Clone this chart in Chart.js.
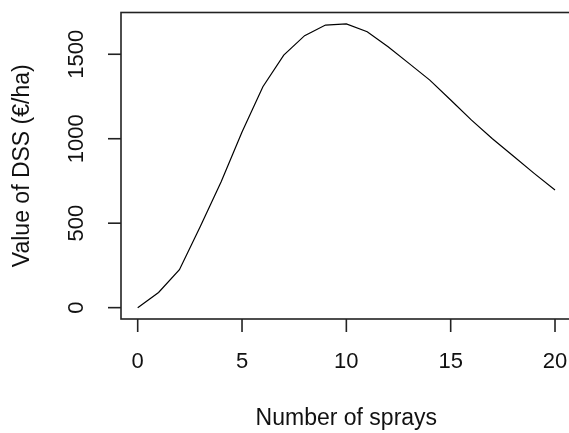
<!DOCTYPE html>
<html>
<head>
<meta charset="utf-8">
<script src="https://cdn.jsdelivr.net/npm/chart.js@4/dist/chart.umd.min.js"></script>
<style>
  html, body { margin:0; padding:0; background:#fff; overflow:hidden; }
  #wrap { width:569px; height:433px; overflow:hidden; }
</style>
</head>
<body>
<div id="wrap"><canvas id="grafico" width="580" height="433"></canvas></div>
<script>
// dados
const sprays = [0,1,2,3,4,5,6,7,8,9,10,11,12,13,14,15,16,17,18,19,20];
const dssValue = [0,90,225,480,745,1040,1308,1495,1610,1673,1680,1633,1544,1446,1347,1229,1110,1000,898,795,696];
const xTicks = [0,5,10,15,20];
const yTicks = [0,500,1000,1500];
const xTitle = "Number of sprays";
const yTitle = "Value of DSS (€/ha)";

const FONT = "'Liberation Sans', Arial, sans-serif";

// eixos no estilo R: caixa, marcas para fora, rótulos do eixo y girados
const eixosR = {
    id: 'eixosR',
    afterDraw(chart){
        const c = chart.ctx;
        const a = chart.chartArea;
        const sx = chart.scales.x, sy = chart.scales.y;
        const tl = 13;
        c.save();
        c.strokeStyle = '#222';
        c.lineWidth = 1.6;
        c.strokeRect(a.left, a.top, a.right - a.left, a.bottom - a.top);

        c.fillStyle = '#111';
        c.font = "22px " + FONT;
        c.textAlign = 'center';
        c.textBaseline = 'middle';
        xTicks.forEach(v=>{
            const px = sx.getPixelForValue(v);
            c.beginPath(); c.moveTo(px, a.bottom); c.lineTo(px, a.bottom + tl); c.stroke();
            c.fillText(String(v), px, 362);
        });
        yTicks.forEach(v=>{
            const py = sy.getPixelForValue(v);
            c.beginPath(); c.moveTo(a.left, py); c.lineTo(a.left - tl, py); c.stroke();
            c.save();
            c.translate(77, py);
            c.rotate(-Math.PI/2);
            c.fillText(String(v), 0, 0);
            c.restore();
        });

        c.font = "23px " + FONT;
        c.fillText(xTitle, (a.left + a.right)/2, 418.5);
        c.save();
        c.translate(22.5, (a.top + a.bottom)/2);
        c.rotate(-Math.PI/2);
        c.fillText(yTitle, 0, 0);
        c.restore();
        c.restore();
    }
};

const ctx = document.getElementById("grafico").getContext("2d");
const grafico = new Chart(ctx, {
    type: 'line',
    data: {
        datasets: [{
            data: sprays.map((s,i)=>({x:s, y:dssValue[i]})),
            borderColor: '#000',
            borderWidth: 1.2,
            pointRadius: 0,
            tension: 0,
            fill: false
        }]
    },
    options:{
        responsive:false,
        animation:false,
        layout:{ padding:{ left:121, top:12.5, right:580-571.7, bottom:433-319 } },
        plugins:{ legend:{ display:false }, tooltip:{ enabled:false } },
        scales:{
            x:{ type:'linear', display:false, min:-0.8, max:20.8 },
            y:{ type:'linear', display:false, min:-67.2, max:1747.2 }
        }
    },
    plugins:[eixosR]
});
</script>
</body>
</html>
